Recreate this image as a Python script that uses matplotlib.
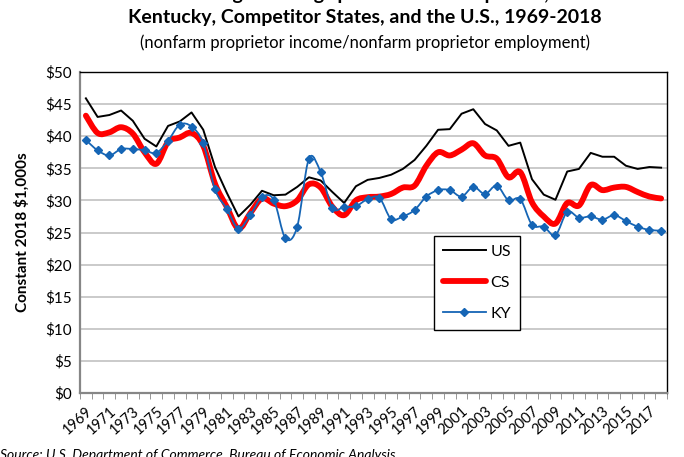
import matplotlib
matplotlib.use("Agg")
import matplotlib.pyplot as plt
import numpy as np
from matplotlib.path import Path
from matplotlib.patches import PathPatch
from matplotlib.lines import Line2D
from matplotlib.ticker import FuncFormatter, MultipleLocator

years = list(range(1969, 2019))
us = [45.9, 43.0, 43.3, 44.0, 42.4, 39.6, 38.4, 41.6, 42.3, 43.7,
      41.0, 35.2, 31.2, 27.5, 29.3, 31.5, 30.8, 30.9, 32.1, 33.6,
      33.1, 31.3, 29.6, 32.2, 33.2, 33.5, 34.0, 34.9, 36.3, 38.5,
      41.0, 41.1, 43.5, 44.2, 41.9, 40.9, 38.5, 39.0, 33.3, 30.9,
      30.1, 34.5, 34.9, 37.4, 36.8, 36.8, 35.4, 34.9, 35.2, 35.1]
cs = [43.2, 40.5, 40.6, 41.4, 40.4, 37.5, 35.7, 39.1, 39.8, 40.5,
      38.5, 32.6, 29.0, 25.6, 28.0, 30.3, 29.5, 29.1, 30.0, 32.5,
      32.0, 29.0, 27.7, 30.0, 30.5, 30.6, 31.0, 32.0, 32.3, 35.4,
      37.5, 37.0, 37.9, 38.9, 37.0, 36.5, 33.6, 34.4, 29.7, 27.5,
      26.4, 29.6, 29.2, 32.4, 31.6, 32.0, 32.1, 31.3, 30.6, 30.3]
ky = [39.4, 37.8, 37.0, 38.0, 38.0, 37.8, 37.4, 39.3, 41.8, 41.5,
      38.9, 31.7, 28.7, 25.6, 27.7, 30.5, 30.1, 24.1, 25.9, 36.5,
      34.4, 28.8, 29.0, 29.1, 30.2, 30.4, 27.1, 27.5, 28.5, 30.6,
      31.6, 31.6, 30.6, 32.1, 31.0, 32.3, 30.0, 30.2, 26.2, 25.9,
      24.6, 28.2, 27.3, 27.5, 27.0, 27.7, 26.8, 25.9, 25.4, 25.3]
tick_labels = [str(y) for y in years[::2]]

plt.rcParams["font.family"] = ["Lato", "DejaVu Sans"]


def smooth_path(xs, ys):
    # Excel-style smoothed line: bezier segments through every data point
    pts = np.column_stack([xs, ys]).astype(float)
    n = len(pts)
    verts = [pts[0]]
    codes = [Path.MOVETO]
    for i in range(n - 1):
        p0 = pts[i - 1] if i > 0 else pts[i]
        p1, p2 = pts[i], pts[i + 1]
        p3 = pts[i + 2] if i + 2 < n else pts[i + 1]
        verts += [p1 + (p2 - p0) / 6, p2 - (p3 - p1) / 6, p2]
        codes += [Path.CURVE4] * 3
    return Path(verts, codes)


fig = plt.figure(figsize=(6.84, 4.57), dpi=100)
ax = fig.add_axes([80 / 684, 1 - 393 / 457, (667 - 80) / 684, (393 - 72) / 457])

x = np.arange(len(years))
for g in range(5, 50, 5):
    ax.axhline(g, color="#c6c6c6", lw=1.3, zorder=0)

ax.plot(x, us, color="black", lw=1.4, zorder=3)
ax.add_patch(PathPatch(smooth_path(x, cs), fill=False, edgecolor="#ff0000",
                       lw=4.2, capstyle="round", joinstyle="round", zorder=2))
ax.add_patch(PathPatch(smooth_path(x, ky), fill=False, edgecolor="#1565b5",
                       lw=1.3, zorder=4))
ax.plot(x, ky, ls="none", marker="D", ms=4.5, color="#1565b5", zorder=5)

ax.set_xlim(-0.5, len(years) - 0.5)
ax.set_ylim(0, 50)
ax.yaxis.set_major_locator(MultipleLocator(5))
ax.yaxis.set_major_formatter(FuncFormatter(lambda v, p: f"${v:.0f}"))
ax.tick_params(axis="y", length=0, labelsize=11, pad=6)

ax.set_xticks(x[::2])
ax.set_xticklabels(tick_labels, rotation=42, ha="right", rotation_mode="anchor",
                   fontsize=10.5)
ax.tick_params(axis="x", which="major", length=0, pad=8)
ax.set_xticks(np.arange(-0.5, len(years), 1), minor=True)
ax.tick_params(axis="x", which="minor", length=4, color="#868686", direction="out")

for side in ("top", "right"):
    ax.spines[side].set_color("black")
    ax.spines[side].set_linewidth(1.0)
for side in ("left", "bottom"):
    ax.spines[side].set_color("#868686")
    ax.spines[side].set_linewidth(1.6)

ax.set_ylabel("Constant 2018 $1,000s", fontsize=11, fontweight="bold", labelpad=11)

handles = [
    Line2D([], [], color="black", lw=1.4),
    Line2D([], [], color="#ff0000", lw=4.2, solid_capstyle="round"),
    Line2D([], [], color="#1565b5", lw=1.3, marker="D", ms=4.5),
]
leg = ax.legend(handles, ["US", "CS", "KY"], loc="upper left",
                bbox_to_anchor=(434 / 684, 1 - 236 / 457), bbox_transform=fig.transFigure,
                borderaxespad=0, fancybox=False, edgecolor="black", framealpha=1,
                fontsize=11.5, handlelength=2.7, labelspacing=1.05, borderpad=0.55,
                handletextpad=0.3)
leg.get_frame().set_linewidth(1.0)

# first title line is cropped at the top edge, as in the original image
fig.text(0.534, 1.013, "Average Earnings per Nonfarm Proprietor,", ha="center", va="center",
         fontsize=14, fontweight="bold")
fig.text(0.534, 1 - 17 / 457, "Kentucky, Competitor States, and the U.S., 1969-2018",
         ha="center", va="center", fontsize=14, fontweight="bold")
fig.text(0.534, 1 - 43 / 457, "(nonfarm proprietor income/nonfarm proprietor employment)",
         ha="center", va="center", fontsize=12)
fig.text(0.0, 1 - 455 / 457, "Source: U.S. Department of Commerce, Bureau of Economic Analysis",
         ha="left", va="center", fontsize=10, style="italic")

fig.savefig("out.png", dpi=100)
